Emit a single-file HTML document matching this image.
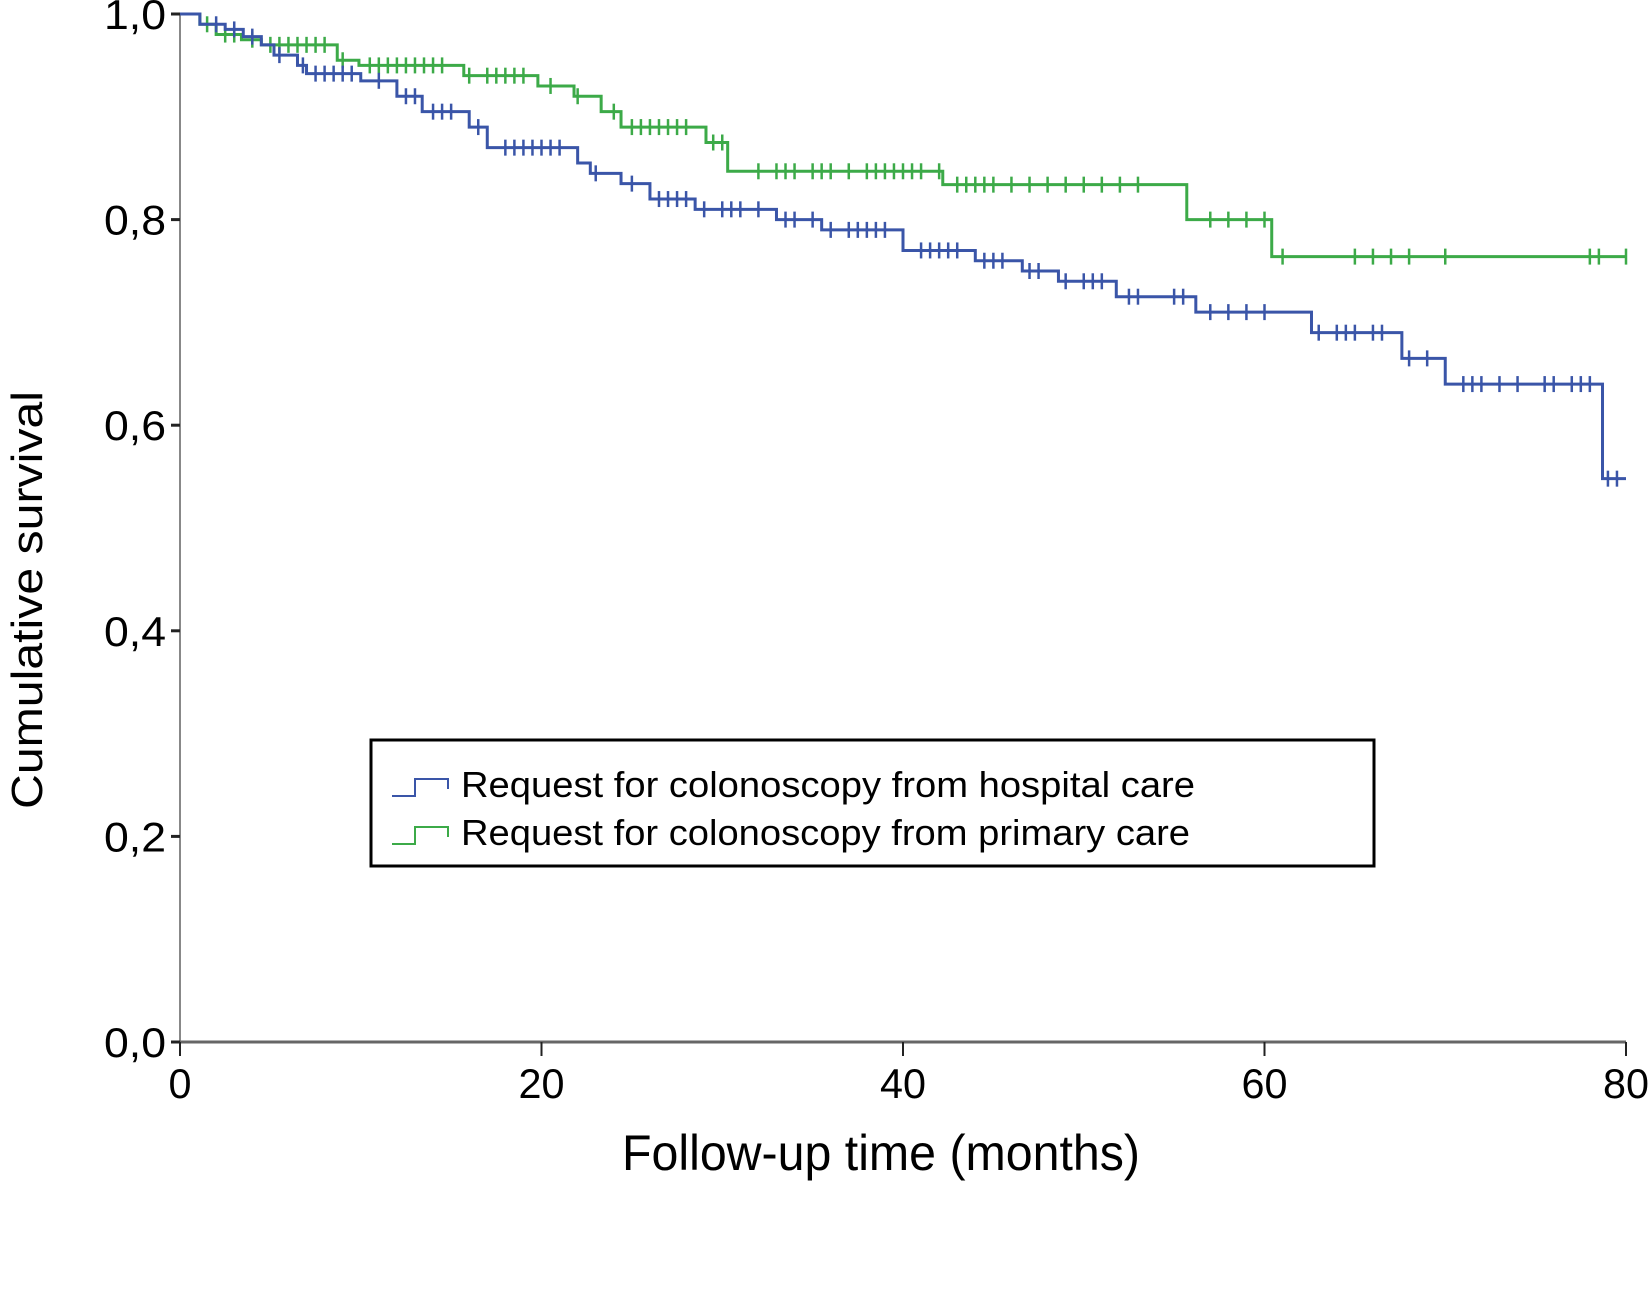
<!DOCTYPE html>
<html><head><meta charset="utf-8"><style>
html,body{margin:0;padding:0;background:#fff;}
svg{display:block;font-family:"Liberation Sans",sans-serif;}
</style></head><body>
<svg id="chart" width="1652" height="1298" viewBox="0 0 1652 1298">
<g id="axes"></g>
<g id="series"></g>
<g>
<rect x="371" y="740" width="1003" height="126" fill="#fff" stroke="#000" stroke-width="3"/>
<path d="M392 796 H415 V779 H448 V789" fill="none" stroke="#3a55a8" stroke-width="2"/>
<text x="461" y="797" font-size="36" textLength="734" lengthAdjust="spacingAndGlyphs">Request for colonoscopy from hospital care</text>
<path d="M392 844 H415 V827 H448 V837" fill="none" stroke="#3caa48" stroke-width="2"/>
<text x="461" y="845" font-size="36" textLength="729" lengthAdjust="spacingAndGlyphs">Request for colonoscopy from primary care</text>
</g>
<text x="881" y="1170" font-size="50" text-anchor="middle" textLength="518" lengthAdjust="spacingAndGlyphs">Follow-up time (months)</text>
<text transform="translate(42,600) rotate(-90)" font-size="44" text-anchor="middle" textLength="418" lengthAdjust="spacingAndGlyphs">Cumulative survival</text>
</svg>
<script>
const xTicks = [0, 20, 40, 60, 80];
const yTicks = [0, 0.2, 0.4, 0.6, 0.8, 1.0];
const yTickLabels = ["0,0", "0,2", "0,4", "0,6", "0,8", "1,0"];
const hospTimes = [0, 1.1, 2.5, 3.5, 4.5, 5.2, 6.5, 7, 10, 12, 13.4, 16, 17, 22, 22.7, 24.4, 26, 28.5, 33, 35.5, 40, 44, 46.6, 48.6, 51.8, 56.2, 62.6, 67.6, 70, 78.7];
const hospSurv = [1.0, 0.99, 0.985, 0.978, 0.97, 0.96, 0.95, 0.942, 0.935, 0.92, 0.905, 0.89, 0.87, 0.855, 0.845, 0.835, 0.82, 0.81, 0.80, 0.79, 0.77, 0.76, 0.75, 0.74, 0.725, 0.71, 0.69, 0.665, 0.64, 0.548];
const hospCens = [2,3,4,5.5,6.8,7.5,8,8.5,9,9.5,11,12.5,13,14,14.5,15,16.5,18,18.5,19,19.5,20,20.5,21,23,25,26.5,27,27.5,28,29,30,30.5,31,32,33.5,34,35,36,37,37.5,38,38.5,39,41,41.5,42,42.5,43,44.5,45,45.5,47,47.5,49,50,50.5,51,52.5,53,55,55.5,57,58,59,60,63,64,64.5,65,66,66.5,68,69,71,71.5,72,73,74,75.5,76,77,77.5,78,79,79.5];
const primTimes = [0, 1.1, 2, 3.4, 4.5, 8.7, 9.9, 15.7, 19.8, 21.8, 23.3, 24.4, 29.1, 30.3, 42.2, 55.7, 60.4];
const primSurv = [1.0, 0.99, 0.98, 0.975, 0.97, 0.955, 0.95, 0.94, 0.93, 0.92, 0.905, 0.89, 0.875, 0.847, 0.834, 0.80, 0.764];
const primCens = [1.5,2.5,3,4,5,5.5,6,6.5,7,7.5,8,9,10.5,11,11.5,12,12.5,13,13.5,14,14.5,16,17,17.5,18,18.5,19,20.5,22,24,25,25.5,26,26.5,27,27.5,28,29.5,30,32,33,33.5,34,35,35.5,36,37,38,38.5,39,39.5,40,40.5,41,42,43,43.5,44,44.5,45,46,47,48,49,50,51,52,53,57,58,59,60,61,65,66,67,68,70,78,78.5,80];

const X0 = 180, X1 = 1626, Y0 = 1042, Y1 = 14;
const sx = t => X0 + (t / 80) * (X1 - X0);
const sy = v => Y0 - v * (Y0 - Y1);
const NS = "http://www.w3.org/2000/svg";
const axes = document.getElementById('axes');
const series = document.getElementById('series');
function mk(tag, attrs, parent) { const e = document.createElementNS(NS, tag); for (const k in attrs) e.setAttribute(k, attrs[k]); parent.appendChild(e); return e; }

let yl = mk('line', {x1: X0, y1: Y1, x2: X0, y2: Y0, stroke: '#888', 'stroke-width': 2}, axes);


let xl = mk('line', {x1: X0, y1: Y0, x2: X1, y2: Y0, stroke: '#666', 'stroke-width': 3}, axes);


yTicks.forEach((v, i) => {
  const tk = mk('line', {x1: X0 - 9, y1: sy(v), x2: X0, y2: sy(v), stroke: '#222', 'stroke-width': 3}, axes);
  
  
  const t = mk('text', {x: X0 - 14, y: sy(v) + 15, 'font-size': 42, 'text-anchor': 'end', textLength: 62, lengthAdjust: 'spacingAndGlyphs'}, axes);
  t.textContent = yTickLabels[i];
  
  
});
xTicks.forEach(v => {
  const tk = mk('line', {x1: sx(v), y1: Y0, x2: sx(v), y2: Y0 + 14, stroke: '#222', 'stroke-width': 2}, axes);
  
  
  const s = String(v);
  const t = mk('text', {x: sx(v), y: Y0 + 56, 'font-size': 42, 'text-anchor': 'middle', textLength: s.length * 23, lengthAdjust: 'spacingAndGlyphs'}, axes);
  t.textContent = s;
  
  
});

function survAt(times, surv, t) { let s = surv[0]; for (let i = 0; i < times.length; i++) if (times[i] <= t) s = surv[i]; return s; }
function drawSeries(times, surv, cens, color, name) {
  let d = `M${sx(times[0])},${sy(surv[0])}`;
  for (let i = 1; i < times.length; i++) d += ` H${sx(times[i])} V${sy(surv[i])}`;
  d += ` H${sx(80)}`;
  const p = mk('path', {d: d, fill: 'none', stroke: color, 'stroke-width': 3}, series);
  
  
  cens.forEach(t => {
    const y = sy(survAt(times, surv, t));
    const c = mk('line', {x1: sx(t), y1: y - 8, x2: sx(t), y2: y + 8, stroke: color, 'stroke-width': 2.5}, series);
    
    
  });
}
drawSeries(primTimes, primSurv, primCens, '#3caa48', 'primary-care');
drawSeries(hospTimes, hospSurv, hospCens, '#3a55a8', 'hospital-care');
</script>
</body></html>
